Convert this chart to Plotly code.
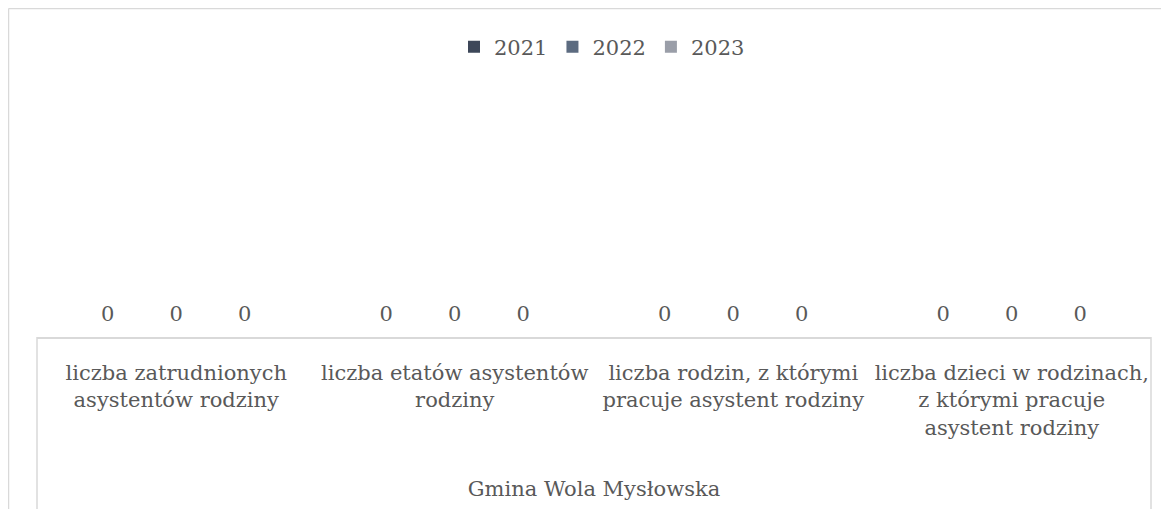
import plotly.graph_objects as go

categories = [
    "liczba zatrudnionych asystentów rodziny",
    "liczba etatów asystentów rodziny",
    "liczba rodzin, z którymi pracuje asystent rodziny",
    "liczba dzieci w rodzinach, z którymi pracuje asystent rodziny",
]
tick_labels = [
    "liczba zatrudnionych<br>asystentów rodziny",
    "liczba etatów asystentów<br>rodziny",
    "liczba rodzin, z którymi<br>pracuje asystent rodziny",
    "liczba dzieci w rodzinach,<br>z którymi pracuje<br>asystent rodziny",
]
series_names = ["2021", "2022", "2023"]
values_2021 = [0, 0, 0, 0]
values_2022 = [0, 0, 0, 0]
values_2023 = [0, 0, 0, 0]
group_title = "Gmina Wola Mysłowska"

series_values = [values_2021, values_2022, values_2023]
colors = ["#3d4759", "#5c6b80", "#9a9ea8"]

# page body has an 8px margin, so the figure is slightly smaller than the window
W, H = 1161, 501
ML, MR, MT, MB = 29, 18, 80, 172
PW, PH = W - ML - MR, H - MT - MB
FONT = "DejaVu Serif"
FS = 21
GRAY = "#595959"
LINE = "#d9d9d9"


def px_x(px):
    return (px - ML) / PW


def px_y(py):
    return (H - MB - py) / PH


fig = go.Figure()
for name, vals, col in zip(series_names, series_values, colors):
    fig.add_trace(go.Bar(
        name=name, x=categories, y=vals,
        marker=dict(color=col, line=dict(width=0)),
        text=vals, textposition="outside", cliponaxis=False,
        textfont=dict(family=FONT, size=FS, color=GRAY),
    ))

shapes = [
    # outer chart border (left and top)
    dict(type="line", xref="paper", yref="paper", x0=px_x(0.5), x1=px_x(W), y0=px_y(0.5), y1=px_y(0.5),
         line=dict(color=LINE, width=1.5)),
    dict(type="line", xref="paper", yref="paper", x0=px_x(0.5), x1=px_x(0.5), y0=px_y(0.5), y1=px_y(H),
         line=dict(color=LINE, width=1.5)),
    # category box sides
    dict(type="line", xref="paper", yref="paper", x0=0, x1=0, y0=0, y1=px_y(H),
         line=dict(color=LINE, width=1.5)),
    dict(type="line", xref="paper", yref="paper", x0=1, x1=1, y0=0, y1=px_y(H),
         line=dict(color=LINE, width=1.5)),
]

fig.update_layout(
    width=W, height=H,
    margin=dict(l=ML, r=MR, t=MT, b=MB, autoexpand=False),
    paper_bgcolor="white", plot_bgcolor="white",
    barmode="group", bargap=0.262, bargroupgap=0,
    font=dict(family=FONT, size=FS, color=GRAY),
    showlegend=True,
    legend=dict(orientation="h", x=px_x(594), xanchor="center", y=px_y(39), yanchor="middle",
                font=dict(family=FONT, size=FS, color=GRAY), itemwidth=30,
                bgcolor="rgba(0,0,0,0)"),
    xaxis=dict(
        tickmode="array", tickvals=categories, ticktext=tick_labels,
        showline=True, linecolor=LINE, linewidth=1.5, mirror=False,
        showgrid=False, ticks="", ticklabelstandoff=16,
        tickfont=dict(family=FONT, size=FS, color=GRAY),
        title=dict(text=group_title, standoff=43, font=dict(family=FONT, size=FS, color=GRAY)),
        automargin=False, fixedrange=True,
    ),
    yaxis=dict(range=[-0.033, 1], visible=False, fixedrange=True),
    shapes=shapes,
)

fig.write_html("out.html")
